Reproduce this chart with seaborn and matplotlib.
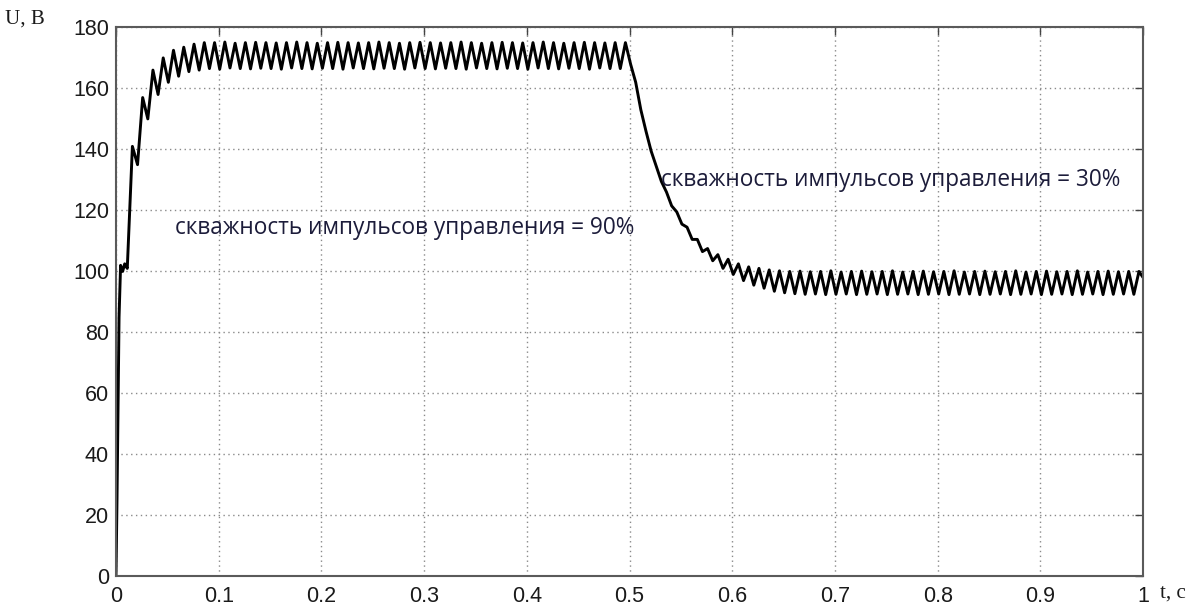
import numpy as np
import pandas as pd
import matplotlib
matplotlib.use("Agg")
import matplotlib.pyplot as plt
import seaborn as sns

# ---------------- data ----------------
# initial charge (t in seconds, U in volts)
t_start = [0.0, 0.001, 0.002, 0.003, 0.0045, 0.0065, 0.0085]
u_start = [0.0, 25.0, 55.0, 85.0, 102.0, 100.0, 102.5]

# ripple: troughs at t = 0.011 + 0.01k, peaks at t = 0.016 + 0.01k
troughs_1 = [
    101.0, 135.0, 150.0, 158.0, 162.0, 164.0, 165.5, 166.0, 166.5, 166.3,
    166.7, 166.5, 166.4, 166.6, 166.5, 166.3, 166.7, 166.5, 166.4, 166.6,
    166.5, 166.3, 166.7, 166.5, 166.4, 166.6, 166.5, 166.3, 166.7, 166.5,
    166.4, 166.6, 166.5, 166.3, 166.7, 166.5, 166.4, 166.6, 166.5, 166.3,
    166.7, 166.5, 166.4, 166.6, 166.5, 166.3, 166.7, 166.5, 166.5,
]
peaks_1 = [
    141.0, 157.0, 166.0, 170.0, 172.5, 173.5, 174.5, 175.0, 175.0, 175.2,
    174.8, 175.0, 175.1, 175.0, 174.9, 175.0, 175.2, 175.0, 174.8, 175.0,
    175.1, 175.0, 174.9, 175.0, 175.2, 175.0, 174.8, 175.0, 175.1, 175.0,
    174.9, 175.0, 175.2, 175.0, 174.8, 175.0, 175.1, 175.0, 174.9, 175.0,
    175.2, 175.0, 174.8, 175.0, 175.1, 175.0, 174.9, 175.0, 175.0,
]
troughs_2 = [
    168.0, 153.0, 139.5, 129.5, 121.5, 115.5, 110.5, 106.5, 103.5, 101.0,
    99.0, 97.0, 95.5, 94.5, 93.5, 93.0, 92.7, 92.5, 92.6, 92.4,
    92.5, 92.6, 92.4, 92.5, 92.6, 92.4, 92.5, 92.6, 92.4, 92.5,
    92.6, 92.4, 92.5, 92.6, 92.4, 92.5, 92.6, 92.4, 92.5, 92.6,
    92.4, 92.5, 92.6, 92.4, 92.5, 92.6, 92.4, 92.5, 92.6, 92.5,
]
peaks_2 = [
    162.0, 146.0, 134.5, 126.0, 119.5, 114.5, 110.5, 107.5, 105.5, 104.0,
    102.5, 101.5, 101.0, 100.5, 100.2, 100.0, 100.1, 99.9, 100.0, 100.2,
    99.8, 100.0, 100.1, 99.9, 100.0, 100.2, 99.8, 100.0, 100.1, 99.9,
    100.0, 100.2, 99.8, 100.0, 100.1, 99.9, 100.0, 100.2, 99.8, 100.0,
    100.1, 99.9, 100.0, 100.2, 99.8, 100.0, 100.1, 99.9, 100.0, 100.0,
]
t_end = [1.0]
u_end = [98.0]

x_ticks = [0, 0.1, 0.2, 0.3, 0.4, 0.5, 0.6, 0.7, 0.8, 0.9, 1.0]
x_tick_labels = ["0", "0.1", "0.2", "0.3", "0.4", "0.5", "0.6", "0.7", "0.8", "0.9", "1"]
y_ticks = [0, 20, 40, 60, 80, 100, 120, 140, 160, 180]
y_tick_labels = ["0", "20", "40", "60", "80", "100", "120", "140", "160", "180"]
label_90 = "скважность импульсов управления = 90%"
label_30 = "скважность импульсов управления = 30%"

# ---------------- assemble series ----------------
troughs = troughs_1 + troughs_2
peaks = peaks_1 + peaks_2
n_cyc = len(troughs)
t_tr = 0.011 + 0.01 * np.arange(n_cyc)
t_pk = 0.016 + 0.01 * np.arange(n_cyc)
t_rip = np.empty(2 * n_cyc)
u_rip = np.empty(2 * n_cyc)
t_rip[0::2], t_rip[1::2] = t_tr, t_pk
u_rip[0::2], u_rip[1::2] = troughs, peaks
t_all = np.concatenate([t_start, t_rip, t_end])
u_all = np.concatenate([u_start, u_rip, u_end])
df = pd.DataFrame({"t": t_all, "U": u_all})

# ---------------- plot ----------------
sns.set_theme(style="white")
plt.rcParams["font.family"] = ["Liberation Sans", "DejaVu Sans"]

fig = plt.figure(figsize=(12.03, 6.06), dpi=100)
ax = fig.add_axes([0.0964, 0.0487, 0.8538, 0.9061])

sns.lineplot(data=df, x="t", y="U", ax=ax, color="black", linewidth=2.1,
             sort=False, estimator=None)

ax.set_xlim(0, 1)
ax.set_ylim(0, 180)
ax.set_xticks(x_ticks)
ax.set_xticklabels(x_tick_labels)
ax.set_yticks(y_ticks)
ax.set_yticklabels(y_tick_labels)
ax.set_xlabel("")
ax.set_ylabel("")

ax.grid(True, linestyle=(0, (1, 2.5)), color="#8a8a8a", linewidth=1.0)
ax.tick_params(direction="in", top=True, right=True, length=6, width=1.0,
               colors="#444444", labelcolor="#1a1a1a", labelsize=15.5)
ax.tick_params(axis="x", pad=7)
ax.tick_params(axis="y", pad=5)
for s in ax.spines.values():
    s.set_color("#5a5a5a")
    s.set_linewidth(1.5)

ax.text(0.0574, 114.3, label_90, fontsize=16.3, color="#1c1c3a",
        family=["Open Sans", "DejaVu Sans"], va="center", ha="left")
ax.text(0.531, 130.0, label_30, fontsize=16.3, color="#1c1c3a",
        family=["Open Sans", "DejaVu Sans"], va="center", ha="left")

fig.text(5 / 1203, 1 - 19 / 606, "U, B", fontsize=15, color="#1a1a1a",
         family=["Liberation Serif", "DejaVu Serif"], va="center", ha="left")
fig.text(1160 / 1203, 1 - 593 / 606, "t, c", fontsize=15, color="#1a1a1a",
         family=["Liberation Serif", "DejaVu Serif"], va="center", ha="left")

fig.savefig("out.png", dpi=100)
